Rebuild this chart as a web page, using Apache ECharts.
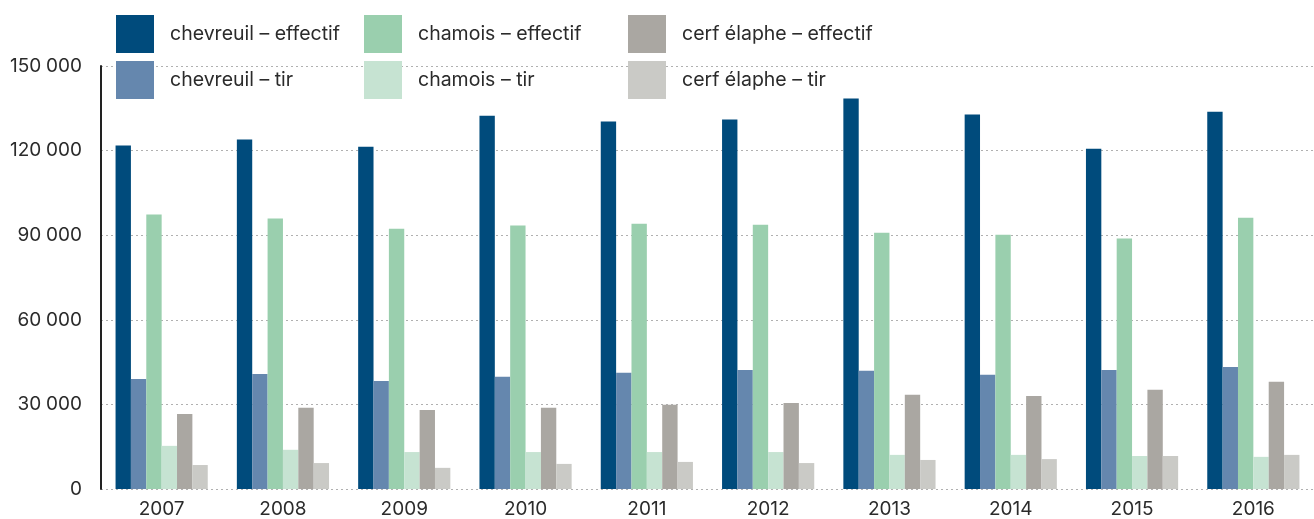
<!DOCTYPE html>
<html>
<head>
<meta charset="utf-8">
<script src="https://cdn.jsdelivr.net/npm/echarts@6/dist/echarts.min.js"></script>
<style>
html, body { margin: 0; padding: 0; background: #fff; }
#main { width: 1314px; height: 519px; }
</style>
</head>
<body>
<div id="main"></div>
<script>
var years = ['2007', '2008', '2009', '2010', '2011', '2012', '2013', '2014', '2015', '2016'];

var chevreuilEffectif = [121800, 123900, 121400, 132400, 130300, 131000, 138500, 132800, 120700, 133800];
var chevreuilTir      = [39050, 40800, 38300, 39800, 41200, 42200, 41900, 40500, 42200, 43300];
var chamoisEffectif   = [97300, 95900, 92300, 93400, 94100, 93700, 90900, 90200, 88800, 96200];
var chamoisTir        = [15300, 13900, 13100, 13100, 13100, 13100, 12100, 12100, 11700, 11400];
var cerfEffectif      = [26600, 28800, 28000, 28800, 29900, 30500, 33400, 33000, 35200, 38000];
var cerfTir           = [8500, 9200, 7500, 8900, 9600, 9200, 10300, 10600, 11700, 12100];

var yTicks = [0, 30000, 60000, 90000, 120000, 150000];

var font = 'Inter';
var chart = echarts.init(document.getElementById('main'));

function mkSeries(name, data, color) {
    return {
        name: name,
        type: 'bar',
        data: data,
        barGap: 0,
        barCategoryGap: '24%',
        itemStyle: { color: color },
        emphasis: { disabled: true }
    };
}

function mkLegend(left, names) {
    return {
        orient: 'vertical',
        left: left,
        top: 15,
        padding: 0,
        itemWidth: 38,
        itemHeight: 38,
        itemGap: 8,
        icon: 'rect',
        selectedMode: false,
        data: names,
        textStyle: {
            fontFamily: font,
            fontSize: 19.5,
            color: '#2b2b2b',
            padding: [0, 0, 0, 11]
        }
    };
}

chart.setOption({
    animation: false,
    grid: { left: 101, right: 0, top: 66, bottom: 30 },
    legend: [
        mkLegend(116, ['chevreuil – effectif', 'chevreuil – tir']),
        mkLegend(364, ['chamois – effectif', 'chamois – tir']),
        mkLegend(628, ['cerf élaphe – effectif', 'cerf élaphe – tir'])
    ],
    xAxis: {
        type: 'category',
        data: years,
        axisLine: { show: false },
        axisTick: { show: false },
        axisLabel: { fontFamily: font, fontSize: 19, color: '#2b2b2b', margin: 11 }
    },
    yAxis: {
        type: 'value',
        min: yTicks[0],
        max: yTicks[yTicks.length - 1],
        interval: 30000,
        axisLine: { show: true, lineStyle: { color: '#222', width: 2 } },
        axisTick: { show: false },
        axisLabel: {
            fontFamily: font, fontSize: 19, color: '#2b2b2b', margin: 19,
            formatter: function (v) {
                return String(v).replace(/\B(?=(\d{3})+(?!\d))/g, '\u2005');
            }
        },
        splitLine: { show: true, lineStyle: { color: '#b0b0b0', type: [2, 3], width: 1 } }
    },
    series: [
        mkSeries('chevreuil – effectif', chevreuilEffectif, '#004b7c'),
        mkSeries('chevreuil – tir', chevreuilTir, '#6587ae'),
        mkSeries('chamois – effectif', chamoisEffectif, '#9acfae'),
        mkSeries('chamois – tir', chamoisTir, '#c6e3d2'),
        mkSeries('cerf élaphe – effectif', cerfEffectif, '#aaa7a2'),
        mkSeries('cerf élaphe – tir', cerfTir, '#cacac6')
    ]
});
</script>
</body>
</html>
